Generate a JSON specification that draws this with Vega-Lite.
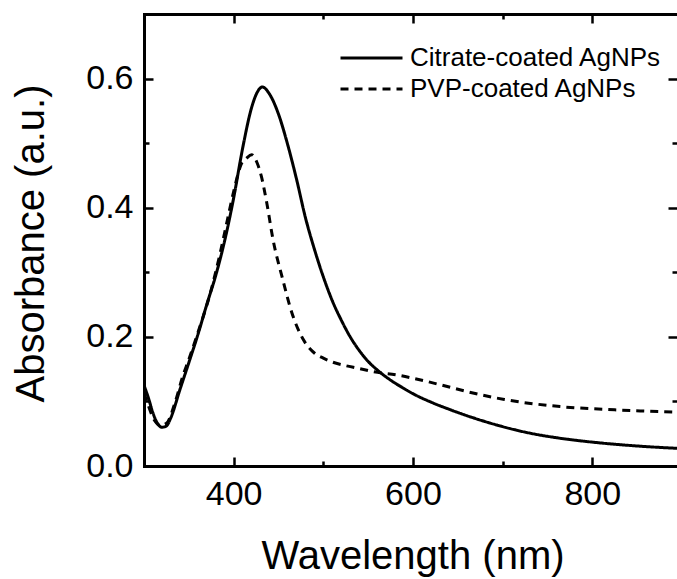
{
  "$schema": "https://vega.github.io/schema/vega-lite/v6.json",
  "autosize": {"type": "none"},
  "padding": {"left": 144, "top": 14, "right": 0, "bottom": 113},
  "width": 533,
  "height": 452,
  "background": "white",
  "config": {
    "view": {"stroke": null},
    "font": "Liberation Sans",
    "axis": {
      "grid": false,
      "labelFont": "Liberation Sans",
      "titleFont": "Liberation Sans",
      "labelColor": "black",
      "titleColor": "black",
      "domainColor": "black",
      "tickColor": "black",
      "domainWidth": 3,
      "domainCap": "square",
      "tickWidth": 2.5,
      "labelFontSize": 34,
      "titleFontSize": 40,
      "titleFontWeight": "normal",
      "labelFlush": false,
      "labelOverlap": false
    }
  },
  "datasets": {
    "spectra": [
      {"wavelength": 300, "absorbance": 0.125, "sample": "Citrate-coated AgNPs"},
      {"wavelength": 305, "absorbance": 0.105, "sample": "Citrate-coated AgNPs"},
      {"wavelength": 310, "absorbance": 0.082, "sample": "Citrate-coated AgNPs"},
      {"wavelength": 315, "absorbance": 0.066, "sample": "Citrate-coated AgNPs"},
      {"wavelength": 320, "absorbance": 0.060, "sample": "Citrate-coated AgNPs"},
      {"wavelength": 325, "absorbance": 0.062, "sample": "Citrate-coated AgNPs"},
      {"wavelength": 330, "absorbance": 0.075, "sample": "Citrate-coated AgNPs"},
      {"wavelength": 340, "absorbance": 0.118, "sample": "Citrate-coated AgNPs"},
      {"wavelength": 350, "absorbance": 0.160, "sample": "Citrate-coated AgNPs"},
      {"wavelength": 360, "absorbance": 0.203, "sample": "Citrate-coated AgNPs"},
      {"wavelength": 370, "absorbance": 0.250, "sample": "Citrate-coated AgNPs"},
      {"wavelength": 380, "absorbance": 0.295, "sample": "Citrate-coated AgNPs"},
      {"wavelength": 390, "absorbance": 0.349, "sample": "Citrate-coated AgNPs"},
      {"wavelength": 400, "absorbance": 0.415, "sample": "Citrate-coated AgNPs"},
      {"wavelength": 410, "absorbance": 0.492, "sample": "Citrate-coated AgNPs"},
      {"wavelength": 420, "absorbance": 0.555, "sample": "Citrate-coated AgNPs"},
      {"wavelength": 426, "absorbance": 0.578, "sample": "Citrate-coated AgNPs"},
      {"wavelength": 432, "absorbance": 0.587, "sample": "Citrate-coated AgNPs"},
      {"wavelength": 440, "absorbance": 0.576, "sample": "Citrate-coated AgNPs"},
      {"wavelength": 450, "absorbance": 0.545, "sample": "Citrate-coated AgNPs"},
      {"wavelength": 460, "absorbance": 0.499, "sample": "Citrate-coated AgNPs"},
      {"wavelength": 470, "absorbance": 0.445, "sample": "Citrate-coated AgNPs"},
      {"wavelength": 480, "absorbance": 0.385, "sample": "Citrate-coated AgNPs"},
      {"wavelength": 490, "absorbance": 0.336, "sample": "Citrate-coated AgNPs"},
      {"wavelength": 500, "absorbance": 0.293, "sample": "Citrate-coated AgNPs"},
      {"wavelength": 510, "absorbance": 0.256, "sample": "Citrate-coated AgNPs"},
      {"wavelength": 520, "absorbance": 0.226, "sample": "Citrate-coated AgNPs"},
      {"wavelength": 530, "absorbance": 0.200, "sample": "Citrate-coated AgNPs"},
      {"wavelength": 540, "absorbance": 0.179, "sample": "Citrate-coated AgNPs"},
      {"wavelength": 550, "absorbance": 0.162, "sample": "Citrate-coated AgNPs"},
      {"wavelength": 560, "absorbance": 0.149, "sample": "Citrate-coated AgNPs"},
      {"wavelength": 575, "absorbance": 0.133, "sample": "Citrate-coated AgNPs"},
      {"wavelength": 590, "absorbance": 0.120, "sample": "Citrate-coated AgNPs"},
      {"wavelength": 600, "absorbance": 0.112, "sample": "Citrate-coated AgNPs"},
      {"wavelength": 620, "absorbance": 0.099, "sample": "Citrate-coated AgNPs"},
      {"wavelength": 640, "absorbance": 0.088, "sample": "Citrate-coated AgNPs"},
      {"wavelength": 660, "absorbance": 0.078, "sample": "Citrate-coated AgNPs"},
      {"wavelength": 680, "absorbance": 0.069, "sample": "Citrate-coated AgNPs"},
      {"wavelength": 700, "absorbance": 0.061, "sample": "Citrate-coated AgNPs"},
      {"wavelength": 730, "absorbance": 0.051, "sample": "Citrate-coated AgNPs"},
      {"wavelength": 764, "absorbance": 0.043, "sample": "Citrate-coated AgNPs"},
      {"wavelength": 800, "absorbance": 0.037, "sample": "Citrate-coated AgNPs"},
      {"wavelength": 850, "absorbance": 0.031, "sample": "Citrate-coated AgNPs"},
      {"wavelength": 900, "absorbance": 0.027, "sample": "Citrate-coated AgNPs"},
      {"wavelength": 300, "absorbance": 0.113, "sample": "PVP-coated AgNPs"},
      {"wavelength": 305, "absorbance": 0.093, "sample": "PVP-coated AgNPs"},
      {"wavelength": 310, "absorbance": 0.075, "sample": "PVP-coated AgNPs"},
      {"wavelength": 318, "absorbance": 0.063, "sample": "PVP-coated AgNPs"},
      {"wavelength": 325, "absorbance": 0.066, "sample": "PVP-coated AgNPs"},
      {"wavelength": 335, "absorbance": 0.100, "sample": "PVP-coated AgNPs"},
      {"wavelength": 343, "absorbance": 0.138, "sample": "PVP-coated AgNPs"},
      {"wavelength": 350, "absorbance": 0.165, "sample": "PVP-coated AgNPs"},
      {"wavelength": 360, "absorbance": 0.206, "sample": "PVP-coated AgNPs"},
      {"wavelength": 374, "absorbance": 0.268, "sample": "PVP-coated AgNPs"},
      {"wavelength": 385, "absorbance": 0.330, "sample": "PVP-coated AgNPs"},
      {"wavelength": 393, "absorbance": 0.381, "sample": "PVP-coated AgNPs"},
      {"wavelength": 400, "absorbance": 0.425, "sample": "PVP-coated AgNPs"},
      {"wavelength": 409, "absorbance": 0.469, "sample": "PVP-coated AgNPs"},
      {"wavelength": 414, "absorbance": 0.476, "sample": "PVP-coated AgNPs"},
      {"wavelength": 420, "absorbance": 0.482, "sample": "PVP-coated AgNPs"},
      {"wavelength": 426, "absorbance": 0.470, "sample": "PVP-coated AgNPs"},
      {"wavelength": 431, "absorbance": 0.448, "sample": "PVP-coated AgNPs"},
      {"wavelength": 437, "absorbance": 0.407, "sample": "PVP-coated AgNPs"},
      {"wavelength": 444, "absorbance": 0.350, "sample": "PVP-coated AgNPs"},
      {"wavelength": 454, "absorbance": 0.293, "sample": "PVP-coated AgNPs"},
      {"wavelength": 465, "absorbance": 0.237, "sample": "PVP-coated AgNPs"},
      {"wavelength": 478, "absorbance": 0.195, "sample": "PVP-coated AgNPs"},
      {"wavelength": 490, "absorbance": 0.175, "sample": "PVP-coated AgNPs"},
      {"wavelength": 500, "absorbance": 0.167, "sample": "PVP-coated AgNPs"},
      {"wavelength": 510, "absorbance": 0.161, "sample": "PVP-coated AgNPs"},
      {"wavelength": 523, "absorbance": 0.156, "sample": "PVP-coated AgNPs"},
      {"wavelength": 540, "absorbance": 0.151, "sample": "PVP-coated AgNPs"},
      {"wavelength": 556, "absorbance": 0.146, "sample": "PVP-coated AgNPs"},
      {"wavelength": 582, "absorbance": 0.141, "sample": "PVP-coated AgNPs"},
      {"wavelength": 600, "absorbance": 0.136, "sample": "PVP-coated AgNPs"},
      {"wavelength": 630, "absorbance": 0.126, "sample": "PVP-coated AgNPs"},
      {"wavelength": 661, "absorbance": 0.115, "sample": "PVP-coated AgNPs"},
      {"wavelength": 702, "absorbance": 0.103, "sample": "PVP-coated AgNPs"},
      {"wavelength": 764, "absorbance": 0.092, "sample": "PVP-coated AgNPs"},
      {"wavelength": 825, "absorbance": 0.087, "sample": "PVP-coated AgNPs"},
      {"wavelength": 860, "absorbance": 0.085, "sample": "PVP-coated AgNPs"},
      {"wavelength": 900, "absorbance": 0.083, "sample": "PVP-coated AgNPs"}
    ]
  },
  "data": {"name": "spectra"},
  "resolve": {"axis": {"x": "independent", "y": "independent"}},
  "layer": [
    {
      "mark": {"type": "line", "strokeWidth": 3, "color": "black", "interpolate": "monotone", "clip": true},
      "encoding": {
        "x": {
          "field": "wavelength", "type": "quantitative",
          "scale": {"domain": [300, 894.5], "nice": false, "zero": false},
          "axis": {
            "orient": "bottom", "values": [400, 600, 800], "tickSize": -9, "labelPadding": 20,
            "title": "Wavelength (nm)", "titleX": 268.5, "titleY": 102,
            "titleBaseline": "alphabetic", "titleAlign": "center"
          }
        },
        "y": {
          "field": "absorbance", "type": "quantitative",
          "scale": {"domain": [0, 0.7], "nice": false, "zero": false},
          "axis": {
            "orient": "left", "values": [0, 0.2, 0.4, 0.6], "format": ".1f", "tickSize": -9, "labelPadding": 20,
            "title": "Absorbance (a.u.)", "titleX": -101, "titleY": 229, "titleAngle": -90,
            "titleBaseline": "alphabetic", "titleAlign": "center"
          }
        },
        "strokeDash": {
          "field": "sample", "type": "nominal",
          "scale": {"domain": ["Citrate-coated AgNPs", "PVP-coated AgNPs"], "range": [[1, 0], [8, 6]]},
          "legend": {
            "orient": "none", "legendX": 195, "legendY": 28.5, "title": null,
            "symbolType": "stroke", "symbolSize": 3844, "symbolStrokeWidth": 3, "symbolStrokeColor": "black",
            "labelFontSize": 26, "labelFont": "Liberation Sans", "labelColor": "black", "labelOffset": 6,
            "labelLimit": 0, "clipHeight": 31, "rowPadding": 0, "padding": 0, "symbolOffset": 0
          }
        }
      }
    },
    {
      "mark": {"type": "line", "opacity": 0},
      "encoding": {
        "x": {"field": "wavelength", "type": "quantitative",
          "axis": {"orient": "bottom", "values": [500, 700], "tickSize": -5, "labels": false, "domain": false, "title": null}},
        "y": {"field": "absorbance", "type": "quantitative",
          "axis": {"orient": "left", "values": [0.1, 0.3, 0.5], "tickSize": -5, "labels": false, "domain": false, "title": null}},
        "detail": {"field": "sample"}
      }
    },
    {
      "mark": {"type": "line", "opacity": 0},
      "encoding": {
        "x": {"field": "wavelength", "type": "quantitative",
          "axis": {"orient": "top", "values": [400, 600, 800], "tickSize": -9, "labels": false, "domain": true, "title": null}},
        "y": {"field": "absorbance", "type": "quantitative",
          "axis": {"orient": "right", "values": [0.2, 0.4, 0.6], "tickSize": -9, "labels": false, "domain": false, "title": null}},
        "detail": {"field": "sample"}
      }
    },
    {
      "mark": {"type": "line", "opacity": 0},
      "encoding": {
        "x": {"field": "wavelength", "type": "quantitative",
          "axis": {"orient": "top", "values": [500, 700], "tickSize": -5, "labels": false, "domain": false, "title": null}},
        "y": {"field": "absorbance", "type": "quantitative",
          "axis": {"orient": "right", "values": [0.1, 0.3, 0.5], "tickSize": -5, "labels": false, "domain": false, "title": null}},
        "detail": {"field": "sample"}
      }
    }
  ]
}
